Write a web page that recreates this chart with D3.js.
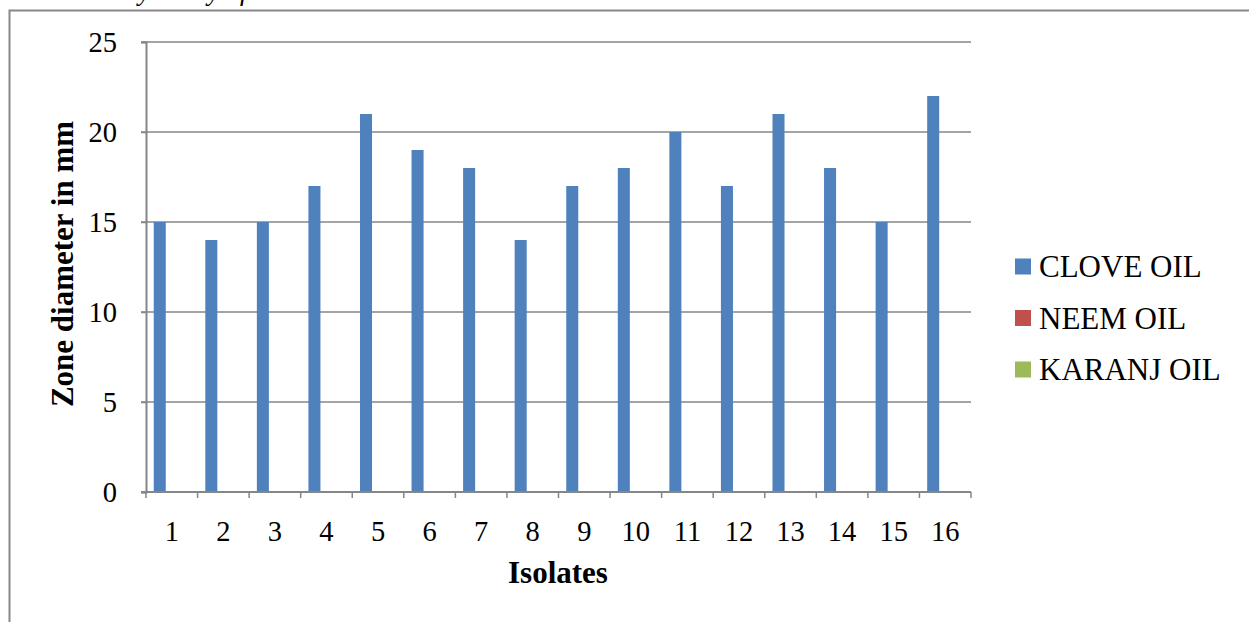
<!DOCTYPE html>
<html><head><meta charset="utf-8">
<script src="https://cdn.jsdelivr.net/npm/d3@7"></script>
<style>body{margin:0;background:#fff}svg{display:block}</style>
</head><body>
<svg id="c" width="1249" height="622"></svg>
<script>
const categories = ["1","2","3","4","5","6","7","8","9","10","11","12","13","14","15","16"];
const seriesNames = ["CLOVE OIL","NEEM OIL","KARANJ OIL"];
const cloveOil = [15,14,15,17,21,19,18,14,17,18,20,17,21,18,15,22];
const neemOil = [0,0,0,0,0,0,0,0,0,0,0,0,0,0,0,0];
const karanjOil = [0,0,0,0,0,0,0,0,0,0,0,0,0,0,0,0];
const yTicks = [0,5,10,15,20,25];
const colors = ["#4F81BD","#C0504D","#9BBB59"];
const seriesData = [cloveOil, neemOil, karanjOil];

const svg = d3.select("#c");
const font = "'Liberation Serif','Times New Roman',serif";
const L = 146, R = 971, T = 42, B = 492;

// outer border & cut-off caption
svg.append("text").attr("x", 405).attr("y", 0).attr("text-anchor","end")
  .attr("font-family", font).attr("font-style","italic").attr("font-size", 27)
  .attr("fill","#000")
  .text("Graph Of Antimicrobial Activity Assay of Essential Oils");
svg.append("path").attr("d", `M9.5,622 V10.5 H1249`).attr("fill","none")
  .attr("stroke","#888").attr("stroke-width",2);

const x = d3.scaleBand().domain(categories).range([L, R]).paddingInner(0.3).paddingOuter(0.15);
const x0 = d3.scaleBand().domain(categories).range([L, R]);
const y = d3.scaleLinear().domain([0,25]).range([B, T]);
const xs = d3.scaleBand().domain(seriesNames).range([0, x.bandwidth()]);

// gridlines
svg.append("g").selectAll("line").data(yTicks.filter(d=>d>0)).join("line")
  .attr("x1", L-5).attr("x2", R).attr("y1", d=>y(d)).attr("y2", d=>y(d))
  .attr("stroke","#868686").attr("stroke-width",1.5);

// bars
seriesData.forEach((vals, si) => {
  svg.append("g").selectAll("rect").data(vals).join("rect")
    .attr("x", (d,i)=>x(categories[i]) + xs(seriesNames[si]))
    .attr("width", xs.bandwidth())
    .attr("y", d=>y(d)).attr("height", d=>B - y(d))
    .attr("fill", colors[si]);
});

// y axis
const yAxis = svg.append("g").attr("transform",`translate(${L},0)`)
  .call(d3.axisLeft(y).tickValues(yTicks).tickSize(5).tickPadding(24));
yAxis.attr("font-family", null).attr("font-size", null);
yAxis.select(".domain").attr("stroke","#868686").attr("stroke-width",2);
yAxis.selectAll(".tick line").attr("stroke","#868686").attr("stroke-width",1.5);
yAxis.selectAll("text").attr("font-family",font).attr("font-size",28.5).attr("fill","#000");

// x axis
const xAxis = svg.append("g").attr("transform",`translate(0,${B})`)
  .call(d3.axisBottom(x0).tickSize(0).tickPadding(29));
xAxis.attr("font-family", null).attr("font-size", null);
xAxis.select(".domain").attr("stroke","#868686").attr("stroke-width",2).attr("d",`M${L-5},0H${R}`);
xAxis.selectAll("text").attr("font-family",font).attr("font-size",28.5).attr("fill","#000");
svg.append("g").selectAll("line").data(d3.range(categories.length+1)).join("line")
  .attr("x1", i=>L + i*x0.step()).attr("x2", i=>L + i*x0.step())
  .attr("y1", B).attr("y2", B+6).attr("stroke","#868686").attr("stroke-width",1.5);

// axis titles
svg.append("text").attr("x", 558).attr("y", 583).attr("text-anchor","middle")
  .attr("font-family",font).attr("font-weight","bold").attr("font-size",31).text("Isolates");
svg.append("text").attr("transform","translate(73,264) rotate(-90)").attr("text-anchor","middle")
  .attr("font-family",font).attr("font-weight","bold").attr("font-size",31).text("Zone diameter in mm");

// legend
const lg = svg.append("g").selectAll("g").data(seriesNames).join("g")
  .attr("transform",(d,i)=>`translate(1015,${266.5 + i*51.5})`);
lg.append("rect").attr("x",0).attr("y",-8).attr("width",16).attr("height",16).attr("fill",(d,i)=>colors[i]);
lg.append("text").attr("x",24).attr("y",10.5).attr("font-family",font).attr("font-size",31).text(d=>d);
</script>
</body></html>
